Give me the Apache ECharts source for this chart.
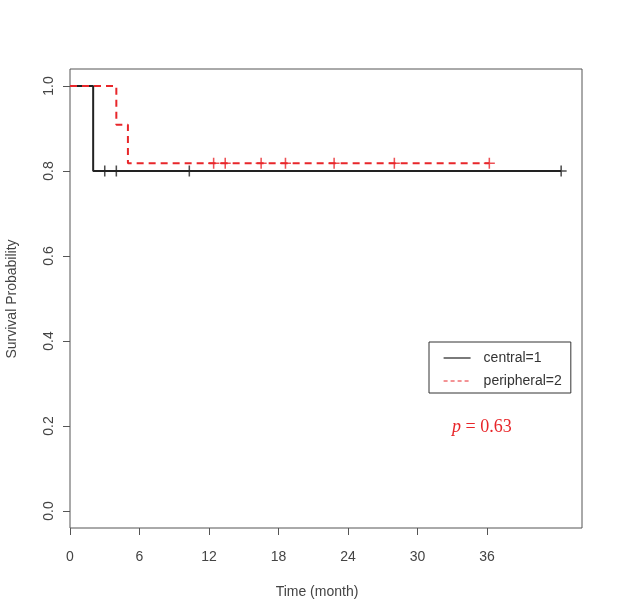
<!DOCTYPE html>
<html>
<head>
<meta charset="utf-8">
<script src="https://cdn.jsdelivr.net/npm/echarts@6/dist/echarts.min.js"></script>
<style>
html, body { margin: 0; padding: 0; background: #fff; }
#main { width: 618px; height: 615px; }
</style>
</head>
<body>
<div id="main"></div>
<script>
// Kaplan-Meier curves
var centralTime = [0, 2, 42.4];
var centralSurv = [1, 0.8, 0.8];
var centralCensor = [3, 4, 10.3, 42.4];
var centralCensorSurv = [0.8, 0.8, 0.8, 0.8];

var periTime = [0, 4, 5, 36.2];
var periSurv = [1, 0.909, 0.818, 0.818];
var periCensor = [12.4, 13.4, 16.5, 18.6, 22.8, 28, 36.2];
var periCensorSurv = [0.818, 0.818, 0.818, 0.818, 0.818, 0.818, 0.818];

var xTicks = [0, 6, 12, 18, 24, 30, 36];
var yTicks = [0, 0.2, 0.4, 0.6, 0.8, 1.0];

// censor mark: a thin "+"
var plusMark = 'path://M0,4.3h10v1.4h-10z M4.3,0h1.4v10h-1.4z';

function pairs(xs, ys) {
	var out = [];
	for (var i = 0; i < xs.length; i++) {
		out.push([xs[i], ys[i]]);
	}
	return out;
}

var myChart = echarts.init(document.getElementById('main'), null, {renderer: 'canvas'});

var fontSans = 'Liberation Sans, Arial, sans-serif';
var fontSerif = 'Liberation Serif, Times New Roman, serif';
var red = '#e8262a';

myChart.setOption({
	backgroundColor: '#fff',
	animation: false,
	grid: {
		show: true,
		left: 70, right: 36, top: 69, bottom: 87,
		borderColor: '#555', borderWidth: 1,
		backgroundColor: 'transparent'
	},
	xAxis: {
		type: 'value',
		min: 0,
		max: 44.2,
		axisLine: {show: false, onZero: false},
		splitLine: {show: false},
		axisTick: {show: true, length: 7, customValues: xTicks, lineStyle: {color: '#555'}},
		axisLabel: {customValues: xTicks, margin: 22, color: '#444', fontSize: 14, fontFamily: fontSans}
	},
	yAxis: {
		type: 'value',
		min: -0.04,
		max: 1.04,
		axisLine: {show: false, onZero: false},
		splitLine: {show: false},
		axisTick: {show: true, length: 7, customValues: yTicks, lineStyle: {color: '#555'}},
		axisLabel: {
			customValues: yTicks, rotate: 90, margin: 14,
			color: '#444', fontSize: 14, fontFamily: fontSans,
			formatter: function(v){ return v.toFixed(1); }
		}
	},
	legend: {
		orient: 'vertical',
		left: 429,
		top: 342,
		data: [
			{name: 'central=1'},
			{name: 'peripheral=2', lineStyle: {type: [4, 3], width: 1}}
		],
		borderColor: '#333',
		borderWidth: 1,
		padding: [9, 9, 5, 14],
		itemWidth: 27,
		itemHeight: 14,
		itemGap: 9,
		itemStyle: {opacity: 0},
		lineStyle: {width: 1.2},
		textStyle: {color: '#333', fontSize: 14, fontFamily: fontSans, padding: [0, 0, 0, 8]}
	},
	graphic: [
		{
			type: 'text',
			x: 317, y: 592,
			style: {
				text: 'Time (month)',
				align: 'center', verticalAlign: 'middle',
				fill: '#444', fontSize: 14, fontFamily: fontSans
			}
		},
		{
			type: 'text',
			rotation: Math.PI / 2,
			x: 12, y: 299,
			style: {
				text: 'Survival Probability',
				align: 'center', verticalAlign: 'middle',
				fill: '#444', fontSize: 14, fontFamily: fontSans
			}
		},
		{
			type: 'text',
			x: 452, y: 427,
			style: {
				text: '{i|p} = 0.63',
				verticalAlign: 'middle',
				fill: red, fontSize: 18, fontFamily: fontSerif,
				rich: {
					i: {fontStyle: 'italic', fill: red, fontSize: 18, fontFamily: fontSerif}
				}
			}
		}
	],
	series: [
		{
			name: 'central=1',
			type: 'line',
			step: 'end',
			symbol: 'none',
			data: pairs(centralTime, centralSurv),
			lineStyle: {color: '#222', width: 2},
			itemStyle: {color: '#222'}
		},
		{
			name: 'peripheral=2',
			type: 'line',
			step: 'end',
			symbol: 'none',
			data: pairs(periTime, periSurv),
			lineStyle: {color: red, width: 2, type: [7, 5]},
			itemStyle: {color: red}
		},
		{
			name: 'central censor',
			type: 'scatter',
			symbol: plusMark,
			symbolSize: 11,
			data: pairs(centralCensor, centralCensorSurv),
			itemStyle: {color: '#222'}
		},
		{
			name: 'peripheral censor',
			type: 'scatter',
			symbol: plusMark,
			symbolSize: 11,
			data: pairs(periCensor, periCensorSurv),
			itemStyle: {color: red}
		}
	]
});
</script>
</body>
</html>
